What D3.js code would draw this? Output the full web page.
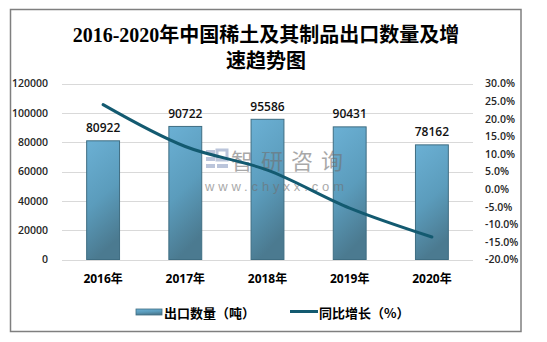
<!DOCTYPE html>
<html>
<head>
<meta charset="utf-8">
<script src="https://cdn.jsdelivr.net/npm/d3@7/dist/d3.min.js"></script>
<style>
  html, body { margin: 0; padding: 0; background: #fff; }
  svg { display: block; }
</style>
</head>
<body>
<svg id="chart" width="547" height="342"></svg>
<script>
// Rare-earth export volume (tonnes) and year-on-year growth (%)
const years = ["2016年", "2017年", "2018年", "2019年", "2020年"];
const exportVolume = [80922, 90722, 95586, 90431, 78162];
const growthRate = [24.0, 12.1, 5.4, -5.4, -13.6];
const leftTicks = [0, 20000, 40000, 60000, 80000, 100000, 120000];
const rightTicks = [-20, -15, -10, -5, 0, 5, 10, 15, 20, 25, 30];
const titleLines = ["2016-2020年中国稀土及其制品出口数量及增", "速趋势图"];
const legendLabels = ["出口数量（吨）", "同比增长（%）"];

const svg = d3.select("#chart");
const sansFont = "'Open Sans', 'Noto Sans CJK SC', sans-serif";
const cjkBold = "'Noto Sans CJK SC', 'Open Sans', sans-serif";

// gradient used for the bars
const defs = svg.append("defs");
const grad = defs.append("linearGradient")
  .attr("id", "barFill").attr("x1", 0).attr("y1", 0).attr("x2", 0.25).attr("y2", 1);
grad.append("stop").attr("offset", "0%").attr("stop-color", "#6bb0d4");
grad.append("stop").attr("offset", "55%").attr("stop-color", "#5b9cbc");
grad.append("stop").attr("offset", "100%").attr("stop-color", "#4b7a90");

// outer frame
svg.append("rect")
  .attr("x", 10.5).attr("y", 9.5).attr("width", 510.5).attr("height", 322)
  .attr("fill", "#fff").attr("stroke", "#7f7f7f").attr("stroke-width", 1.5);

// title
svg.append("g").selectAll("text").data(titleLines).join("text")
  .attr("x", 266).attr("y", (d, i) => 35 + i * 26)
  .attr("text-anchor", "middle").attr("dominant-baseline", "central")
  .attr("font-family", "'Liberation Serif', 'Noto Sans CJK SC', serif")
  .attr("font-weight", "bold").attr("font-size", 20).attr("fill", "#000")
  .text(d => d);

// scales
const x = d3.scaleBand().domain(years).range([62, 473]).paddingInner(0.6).paddingOuter(0.3);
const yL = d3.scaleLinear().domain([0, 120000]).range([259.5, 83.5]);
const yR = d3.scaleLinear().domain([-20, 30]).range([259.5, 83.5]);

// gridlines
svg.append("g").selectAll("line").data(leftTicks).join("line")
  .attr("x1", 62).attr("x2", 473)
  .attr("y1", d => Math.round(yL(d)) + 0.5).attr("y2", d => Math.round(yL(d)) + 0.5)
  .attr("stroke", "#d9d9d9").attr("stroke-width", 1);

// left axis
const leftAxis = svg.append("g").attr("transform", "translate(62,0)")
  .call(d3.axisLeft(yL).tickValues(leftTicks).tickSize(0).tickPadding(14).tickFormat(d3.format("d")));
leftAxis.select(".domain").remove();
leftAxis.selectAll("text").attr("font-family", sansFont).attr("font-size", 10.5)
  .attr("font-weight", 600).attr("fill", "#262626");

// right axis
const rightAxis = svg.append("g").attr("transform", "translate(473,0)")
  .call(d3.axisRight(yR).tickValues(rightTicks).tickSize(0).tickPadding(12).tickFormat(d => d.toFixed(1) + "%"));
rightAxis.select(".domain").remove();
rightAxis.selectAll("text").attr("font-family", sansFont).attr("font-size", 10.5)
  .attr("font-weight", 600).attr("fill", "#262626");

// bottom axis labels
const bottomAxis = svg.append("g").attr("transform", "translate(0,260)")
  .call(d3.axisBottom(x).tickSize(0).tickPadding(14));
bottomAxis.select(".domain").remove();
bottomAxis.selectAll("text").attr("font-family", sansFont).attr("font-size", 12)
  .attr("font-weight", "bold").attr("fill", "#000");

// bars
svg.append("g").selectAll("rect").data(exportVolume).join("rect")
  .attr("x", (d, i) => x(years[i]))
  .attr("y", d => yL(d))
  .attr("width", x.bandwidth())
  .attr("height", d => yL(0) - yL(d))
  .attr("fill", "url(#barFill)")
  .attr("stroke", "#3f6d82").attr("stroke-width", 1);

// value labels above bars
svg.append("g").selectAll("text").data(exportVolume).join("text")
  .attr("x", (d, i) => x(years[i]) + x.bandwidth() / 2)
  .attr("y", d => yL(d) - 13)
  .attr("text-anchor", "middle").attr("dominant-baseline", "central")
  .attr("font-family", sansFont).attr("font-size", 12).attr("font-weight", 600)
  .attr("fill", "#111")
  .text(d => d);

// watermark
const wm = svg.append("g").attr("opacity", 0.6);
wm.append("rect").attr("x", 206).attr("y", 150).attr("width", 9).attr("height", 4).attr("fill", "#8e9fc4");
wm.append("rect").attr("x", 206).attr("y", 157).attr("width", 9).attr("height", 4).attr("fill", "#8e9fc4");
wm.append("rect").attr("x", 206).attr("y", 164).attr("width", 9).attr("height", 4).attr("fill", "#8e9fc4");
wm.append("rect").attr("x", 217).attr("y", 150).attr("width", 10).attr("height", 10).attr("fill", "none")
  .attr("stroke", "#8e9fc4").attr("stroke-width", 3);
wm.append("rect").attr("x", 217).attr("y", 164).attr("width", 11).attr("height", 4).attr("fill", "#8e9fc4");
wm.append("text").attr("x", 231).attr("y", 159).attr("dominant-baseline", "central")
  .attr("font-family", "'Noto Sans CJK SC', sans-serif").attr("font-size", 22)
  .attr("textLength", 112).attr("fill", "#707070").text("智研咨询");
wm.append("text").attr("x", 205).attr("y", 186).attr("dominant-baseline", "central")
  .attr("font-family", "'Liberation Sans', sans-serif").attr("font-size", 13)
  .attr("textLength", 139).attr("fill", "#707070").text("www.chyxx.com");

// growth line
const line = d3.line()
  .x((d, i) => x(years[i]) + x.bandwidth() / 2)
  .y(d => yR(d))
  .curve(d3.curveCatmullRom.alpha(0.5));
svg.append("path").datum(growthRate)
  .attr("d", line)
  .attr("fill", "none").attr("stroke", "#135a70").attr("stroke-width", 3)
  .attr("stroke-linecap", "round");

// legend
const lg = svg.append("g");
lg.append("rect").attr("x", 136).attr("y", 309).attr("width", 26).attr("height", 6)
  .attr("fill", "url(#barFill)").attr("stroke", "#3f6d82").attr("stroke-width", 0.8);
lg.append("text").attr("x", 164).attr("y", 312).attr("dominant-baseline", "central")
  .attr("font-family", cjkBold).attr("font-weight", "bold").attr("font-size", 13)
  .attr("fill", "#000").text(legendLabels[0]);
lg.append("line").attr("x1", 290).attr("x2", 318).attr("y1", 311.5).attr("y2", 311.5)
  .attr("stroke", "#135a70").attr("stroke-width", 3);
lg.append("text").attr("x", 319).attr("y", 312).attr("dominant-baseline", "central")
  .attr("font-family", cjkBold).attr("font-weight", "bold").attr("font-size", 13)
  .attr("fill", "#000").text(legendLabels[1]);
</script>
</body>
</html>
